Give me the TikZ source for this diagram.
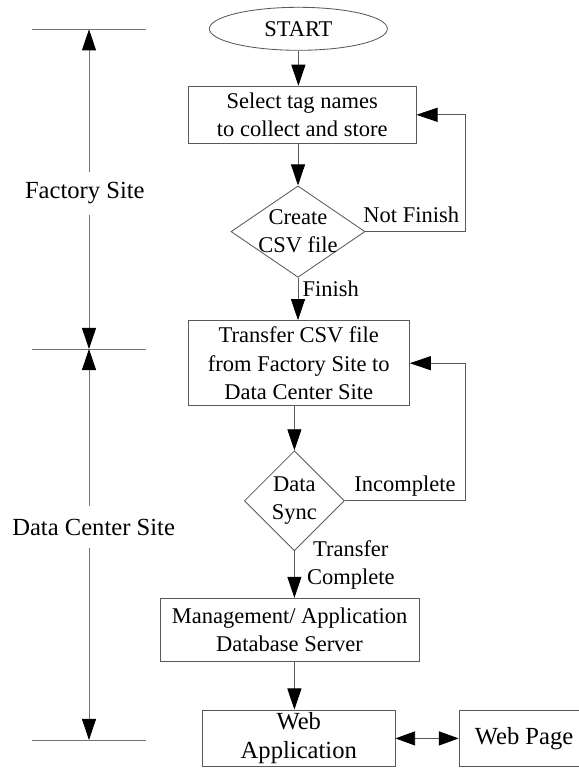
\documentclass[tikz,border=0pt]{standalone}
\usepackage{fontspec}
\setmainfont{Liberation Serif}
\usepackage{tikz}
\usetikzlibrary{
  arrows.meta,      % Triangle 实心箭头
  shapes.geometric, % 椭圆与菱形节点
  positioning       % 节点相对定位
}
\tikzset{
  flow line/.style={
    -{Triangle[length=15pt,width=10pt,black]},
    draw=black!65,
    line width=0.6pt
  },
  both flow/.style={
    {Triangle[length=14pt,width=10pt,black]}-{Triangle[length=14pt,width=10pt,black]},
    draw=black!65,
    line width=0.6pt
  },
  site edge/.style={
    draw=black!55,
    line width=0.6pt
  },
  process/.style={
    rectangle,
    draw=black!65,
    line width=0.6pt,
    align=center,
    inner sep=2pt,
    font=\fontsize{16pt}{20pt}\selectfont
  },
  terminal/.style={
    ellipse,
    draw=black!65,
    line width=0.6pt,
    inner sep=0pt,
    minimum width=4.45cm,
    minimum height=1.075cm,
    font=\fontsize{16pt}{20pt}\selectfont
  },
  decision/.style={
    diamond,
    aspect=1.5,
    draw=black!65,
    line width=0.6pt,
    align=center,
    inner sep=-8pt,
    font=\fontsize{16pt}{20pt}\selectfont
  },
  site label/.style={
    inner sep=0pt,
    minimum height=1.05cm,
    font=\fontsize{17.5pt}{21pt}\selectfont
  },
  branch label/.style={
    inner sep=3pt,
    font=\fontsize{16pt}{20pt}\selectfont
  }
}

\begin{document}
\begin{tikzpicture}
    \useasboundingbox (0,0) rectangle (14.475,-19.225);

    % --- 流程节点 ---
    \node[terminal] (start) at (7.46,-0.72) {START};
    \node[process, minimum width=5.69cm, minimum height=1.43cm] (select) at (7.555,-2.87)
        {Select tag names\\to collect and store};
    \node[decision, minimum width=3.35cm, minimum height=2.285cm] (csv) at (7.45,-5.79)
        {Create\\CSV file};
    \node[process, minimum width=5.53cm, minimum height=2.13cm] (transfer) at (7.47,-9.08)
        {Transfer CSV file\\from Factory Site to\\Data Center Site};
    \node[decision, minimum width=2.5cm, minimum height=2.5cm] (sync) at (7.36,-12.52)
        {Data\\Sync};
    \node[process, minimum width=6.48cm, minimum height=1.585cm] (server) at (7.24,-15.75)
        {Management/ Application\\Database Server};
    \node[process, minimum width=4.81cm, minimum height=1.42cm,
          font=\fontsize{17.5pt}{20.5pt}\selectfont] (webapp) at (7.47,-18.46)
        {Web\\Application};
    \node[process, minimum width=3.25cm, minimum height=1.42cm,
          font=\fontsize{17.5pt}{20.5pt}\selectfont, right=1.58cm of webapp] (webpage)
        {Web Page};

    % --- 主流程箭头 ---
    \draw[flow line] (start) -- (start |- select.north);
    \draw[flow line] (csv |- select.south) -- (csv);
    \draw[flow line] (csv) -- node[branch label, right, pos=0.25] {Finish} (csv |- transfer.north);
    \draw[flow line] (sync |- transfer.south) -- (sync);
    \draw[flow line] (sync) -- node[branch label, right, align=center, pos=0.3, xshift=0.2cm]
        {Transfer\\Complete} (sync |- server.north);
    \draw[flow line] (sync |- server.south) -- (sync |- webapp.north);
    \draw[both flow] (webapp) -- (webpage);

    % --- 回路 (右侧竖线 x=11.625) ---
    \coordinate (ret) at (11.625,-7);
    \draw[flow line] (csv.east) -- node[branch label, above, xshift=-0.1cm, yshift=0.1cm]
        {Not Finish} (csv.east -| ret) |- (select.east);
    \draw[flow line] (sync.east) -- node[branch label, above] {Incomplete} (sync.east -| ret)
        |- (transfer.east);

    % --- 左侧区域标注 ---
    \draw[site edge] (0.79,-0.733) -- (3.65,-0.733);
    \draw[site edge] (0.79,-8.725) -- (3.65,-8.725);
    \draw[site edge] (0.79,-18.5) -- (3.65,-18.5);
    \coordinate (factory top) at (2.225,-0.733);
    \coordinate (site split) at (2.225,-8.725);
    \coordinate (center bottom) at (2.225,-18.5);

    \node[site label] (factory) at (2.12,-4.833) {Factory Site};
    \node[site label] (datacenter) at (2.34,-13.175) {Data Center Site};

    \draw[flow line, draw=black!55] (factory top |- factory.north) -- (factory top);
    \draw[flow line, draw=black!55] (factory top |- factory.south) -- (site split);
    \draw[flow line, draw=black!55] (site split |- datacenter.north) -- (site split);
    \draw[flow line, draw=black!55] (site split |- datacenter.south) -- (center bottom);

\end{tikzpicture}
\end{document}
